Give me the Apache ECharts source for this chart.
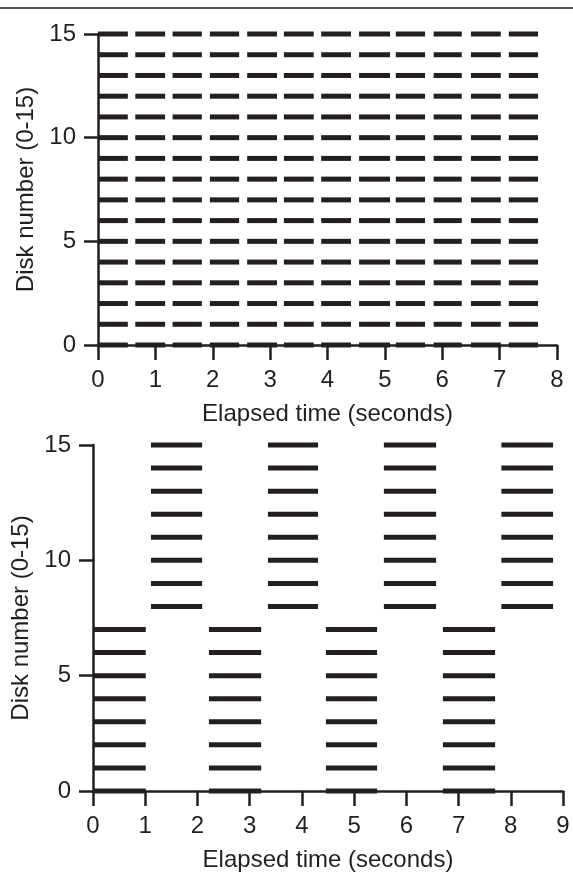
<!DOCTYPE html>
<html>
<head>
<meta charset="utf-8">
<script src="https://cdn.jsdelivr.net/npm/echarts@6/dist/echarts.min.js"></script>
<style>
html, body { margin: 0; padding: 0; background: #fff; }
#main { width: 573px; height: 875px; }
</style>
</head>
<body>
<div id="main"></div>
<script>
// 磁盘编号
var disks = [0, 1, 2, 3, 4, 5, 6, 7, 8, 9, 10, 11, 12, 13, 14, 15];

// 上图：每个磁盘相同的短划线（秒）
var topDashStart = [0, 0.65, 1.30, 1.95, 2.60, 3.24, 3.89, 4.55, 5.19, 5.85, 6.50, 7.16];
var topDashEnd   = [0.52, 1.17, 1.81, 2.46, 3.12, 3.76, 4.41, 5.09, 5.70, 6.34, 7.02, 7.67];

// 下图：交替的磁盘组
var botStart    = [0, 1.11, 2.22, 3.35, 4.46, 5.57, 6.70, 7.82];
var botEnd      = [1.01, 2.09, 3.22, 4.31, 5.44, 6.57, 7.70, 8.81];
var botDiskFrom = [0, 8, 0, 8, 0, 8, 0, 8];
var botDiskTo   = [7, 15, 7, 15, 7, 15, 7, 15];

var xTicksTop = [0, 1, 2, 3, 4, 5, 6, 7, 8];
var xTicksBot = [0, 1, 2, 3, 4, 5, 6, 7, 8, 9];

var ink = '#231f20';
var font = 'Liberation Sans, Arial, Helvetica, sans-serif';

var topData = [];
disks.forEach(function (d) {
    for (var i = 0; i < topDashStart.length; i++) {
        topData.push([topDashStart[i], topDashEnd[i], d]);
    }
});
var botData = [];
for (var g = 0; g < botStart.length; g++) {
    disks.forEach(function (d) {
        if (d >= botDiskFrom[g] && d <= botDiskTo[g]) {
            botData.push([botStart[g], botEnd[g], d]);
        }
    });
}

function renderBar(params, api) {
    var a = api.coord([api.value(0), api.value(2)]);
    var b = api.coord([api.value(1), api.value(2)]);
    var h = 5;
    return {
        type: 'rect',
        shape: { x: a[0], y: a[1] - h / 2, width: b[0] - a[0], height: h },
        style: { fill: ink }
    };
}

function xAxisCfg(idx, max) {
    return {
        gridIndex: idx,
        type: 'value',
        min: 0,
        max: max,
        interval: 1,
        name: 'Elapsed time (seconds)',
        nameLocation: 'middle',
        nameGap: 57,
        nameTextStyle: { fontFamily: font, fontSize: 24, color: ink, verticalAlign: 'top' },
        axisLine: { show: true, onZero: false, lineStyle: { color: ink, width: 2.5 } },
        axisTick: { show: true, length: 15, lineStyle: { color: ink, width: 2.5 } },
        axisLabel: { margin: 23, fontFamily: font, fontSize: 24, color: ink, showMaxLabel: true, showMinLabel: true },
        splitLine: { show: false }
    };
}

function yAxisCfg(idx) {
    return {
        gridIndex: idx,
        type: 'value',
        min: 0,
        max: 15,
        interval: 5,
        name: 'Disk number (0-15)',
        nameLocation: 'middle',
        nameGap: 58,
        nameRotate: 90,
        nameTextStyle: { fontFamily: font, fontSize: 24, color: ink },
        axisLine: { show: true, lineStyle: { color: ink, width: 2.5 } },
        axisTick: { show: true, length: 14, lineStyle: { color: ink, width: 2.5 } },
        axisLabel: { margin: 22, fontFamily: font, fontSize: 24, color: ink },
        splitLine: { show: false }
    };
}

var myChart = echarts.init(document.getElementById('main'));

var option = {
    backgroundColor: '#fff',
    animation: false,
    graphic: [{
        type: 'line',
        shape: { x1: 0, y1: 8, x2: 573, y2: 8 },
        style: { stroke: '#555', lineWidth: 2 }
    }],
    grid: [
        { left: 98, top: 34, width: 459, height: 311 },
        { left: 93, top: 445, width: 470, height: 346 }
    ],
    xAxis: [xAxisCfg(0, xTicksTop[xTicksTop.length - 1]), xAxisCfg(1, xTicksBot[xTicksBot.length - 1])],
    yAxis: [yAxisCfg(0), yAxisCfg(1)],
    series: [
        {
            type: 'custom',
            xAxisIndex: 0,
            yAxisIndex: 0,
            renderItem: renderBar,
            encode: { x: [0, 1], y: 2 },
            data: topData,
            clip: false
        },
        {
            type: 'custom',
            xAxisIndex: 1,
            yAxisIndex: 1,
            renderItem: renderBar,
            encode: { x: [0, 1], y: 2 },
            data: botData,
            clip: false
        }
    ]
};
myChart.setOption(option);
</script>
</body>
</html>
